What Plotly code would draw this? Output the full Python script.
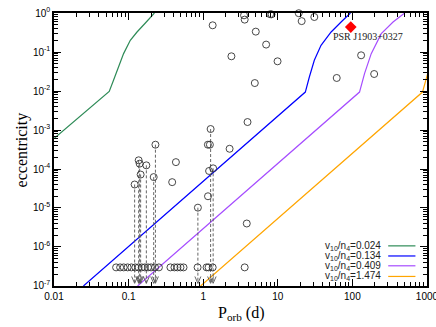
import plotly.graph_objects as go

# ---- data ----
# model curves: orbital period (d) and eccentricity
green_P = [0.01, 0.0550, 0.0628, 0.0733, 0.0857, 0.1054, 0.1297, 0.1679, 0.2218]
green_e = [6.0e-4, 9.8e-3, 0.0188, 0.0412, 0.0910, 0.1995, 0.326, 0.555, 1.0]

blue_P = [0.0248, 23.4, 26.5, 30.9, 38.0, 51.9, 70.6, 94.2]
blue_e = [1e-7, 9.4e-3, 0.0229, 0.0612, 0.1486, 0.326, 0.588, 1.0]

purple_P = [0.132, 124.7, 145.5, 179.0, 244.0, 351.0, 502.0]
purple_e = [1e-7, 9.4e-3, 0.0279, 0.0910, 0.296, 0.588, 1.0]

orange_P = [0.923, 871.0, 1000.0, 1148.0]
orange_e = [1e-7, 9.4e-3, 0.024, 0.061]

curve_labels = ["v<sub>10</sub>/n<sub>4</sub>=0.024", "v<sub>10</sub>/n<sub>4</sub>=0.134",
                "v<sub>10</sub>/n<sub>4</sub>=0.409", "v<sub>10</sub>/n<sub>4</sub>=1.474"]
curve_colors = ["#2e8b57", "#0000ff", "#a64dff", "#ffa500"]

# pulsars with measured eccentricity
meas_P = [0.431, 0.384, 1.156, 1.23, 1.20, 1.16, 2.26, 3.93, 3.84, 1.34, 3.53, 3.60,
          8.25, 7.90, 19.1, 20.9, 30.9, 5.07, 6.98, 2.39, 9.93, 4.92, 61.7, 131.0, 196.0]
meas_e = [1.5e-4, 4.6e-5, 4.2e-4, 4.2e-4, 8.9e-5, 2.0e-5, 3.3e-4, 1.6e-3, 4.0e-6, 0.484,
          0.873, 0.677, 0.926, 0.93, 0.99, 0.62, 0.79, 0.333, 0.155, 0.0776, 0.0578, 0.016,
          0.0216, 0.0823, 0.0273]

# pulsars with eccentricity upper limits (dashed drop lines)
ul_P = [0.1205, 0.1365, 0.1406, 0.145, 0.173, 0.217, 0.229, 0.849, 1.258, 1.36]
ul_e = [4.0e-5, 1.67e-4, 1.37e-4, 7.2e-5, 1.24e-4, 6.2e-5, 4.2e-4, 1.02e-5, 1.06e-3, 1.04e-4]

# pulsars without eccentricity measurement (plotted at fixed e)
none_P = [0.068, 0.077, 0.086, 0.097, 0.109, 0.123, 0.136, 0.150, 0.165, 0.182, 0.200,
          0.226, 0.255, 0.364, 0.412, 0.452, 0.496, 0.545, 0.841, 1.11, 1.18, 1.34, 3.6]
none_e_value = 3e-7

psr_name = "PSR J1903+0327"
psr_P = [95.17]
psr_e = [0.437]

x_tickvals = [0.01, 0.1, 1, 10, 100, 1000]
x_ticktext = ["0.01", "0.1", "1", "10", "100", "1000"]
y_exps = [0, -1, -2, -3, -4, -5, -6, -7]

# ---- figure ----
fig = go.Figure()

for P, e, c in zip([green_P, blue_P, purple_P, orange_P],
                   [green_e, blue_e, purple_e, orange_e], curve_colors):
    fig.add_trace(go.Scatter(x=P, y=e, mode="lines", line=dict(color=c, width=1.2),
                             showlegend=False, hoverinfo="skip"))

# dashed drop lines and arrow heads for upper limits
tip_e = 1.17e-7
arm_e = 1.75e-7
arm_dx = 10 ** 0.04
dx, dy, ax, ay = [], [], [], []
for p, e in zip(ul_P, ul_e):
    dx += [p, p, None]
    dy += [e, tip_e, None]
    ax += [p / arm_dx, p, p * arm_dx, None]
    ay += [arm_e, tip_e, arm_e, None]
fig.add_trace(go.Scatter(x=dx, y=dy, mode="lines",
                         line=dict(color="#555555", width=0.9, dash="3px,2px"),
                         showlegend=False, hoverinfo="skip"))
fig.add_trace(go.Scatter(x=ax, y=ay, mode="lines",
                         line=dict(color="#555555", width=0.9),
                         showlegend=False, hoverinfo="skip"))

circ = dict(symbol="circle-open", size=7, color="#333333", line=dict(width=0.9, color="#333333"))
fig.add_trace(go.Scatter(x=meas_P, y=meas_e, mode="markers", marker=circ, showlegend=False,
                         cliponaxis=False))
fig.add_trace(go.Scatter(x=ul_P, y=ul_e, mode="markers", marker=circ, showlegend=False,
                         cliponaxis=False))
fig.add_trace(go.Scatter(x=none_P, y=[none_e_value] * len(none_P), mode="markers",
                         marker=circ, showlegend=False, cliponaxis=False))
fig.add_trace(go.Scatter(x=psr_P, y=psr_e, mode="markers",
                         marker=dict(symbol="diamond", size=9, color="#ff0000"),
                         showlegend=False, cliponaxis=False))

fig.add_annotation(x=2.215, y=-0.6, xref="x", yref="y", text=psr_name, showarrow=False,
                   font=dict(family="Liberation Serif", size=10, color="#222"),
                   xanchor="center", yanchor="middle")

# legend built from annotations + line samples (text on the left, line on the right)
leg_y = [0.147, 0.110, 0.074, 0.035]
for lab, c, yy in zip(curve_labels, curve_colors, leg_y):
    fig.add_annotation(x=0.882, y=yy, xref="paper", yref="paper", text=lab, showarrow=False,
                       xanchor="right", yanchor="middle",
                       font=dict(family="Liberation Sans", size=10, color="#222"))
    fig.add_shape(type="line", xref="paper", yref="paper", x0=0.896, x1=0.969, y0=yy, y1=yy,
                  line=dict(color=c, width=1.2))

# axis titles
fig.add_annotation(x=0.5, y=-0.06, xref="paper", yref="paper", text="P<sub>orb</sub> (d)",
                   showarrow=False, xanchor="center", yanchor="top",
                   font=dict(family="Liberation Serif", size=16, color="black"))
fig.add_annotation(x=-0.086, y=0.5, xref="paper", yref="paper", text="eccentricity",
                   showarrow=False, xanchor="center", yanchor="middle", textangle=-90,
                   font=dict(family="Liberation Serif", size=16, color="black"))

axis_common = dict(type="log", showgrid=False, zeroline=False, showline=True,
                   linecolor="black", linewidth=1.5, mirror="allticks", ticks="inside",
                   ticklen=7, tickwidth=1, tickcolor="black", automargin=False,
                   ticklabeloverflow="allow",
                   tickfont=dict(family="Liberation Sans", size=10, color="black"),
                   minor=dict(ticks="inside", ticklen=4, tickwidth=1, tickcolor="black",
                              dtick="D1", showgrid=False))

fig.update_xaxes(**axis_common, range=[-2.0, 3.0005], tickmode="array", tickvals=x_tickvals,
                 ticktext=x_ticktext)
fig.update_yaxes(**axis_common, range=[-7.0005, 0.0005], tickmode="array",
                 tickvals=[10 ** k for k in y_exps],
                 ticktext=["10<sup>%d</sup>" % k for k in y_exps])

fig.update_layout(width=436, height=327, margin=dict(l=54, r=9, t=13, b=41),
                  paper_bgcolor="white", plot_bgcolor="white", showlegend=False)

fig.write_html("out.html", config={"displayModeBar": False},
               post_script="document.body.style.margin='0';document.body.style.padding='0';")
